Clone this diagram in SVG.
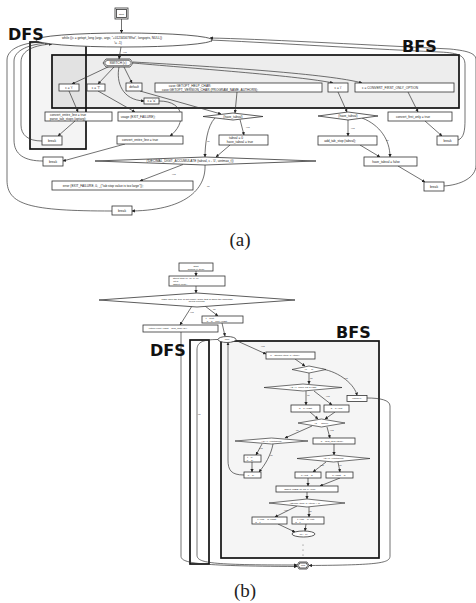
<svg xmlns="http://www.w3.org/2000/svg" width="476" height="603" viewBox="0 0 476 603">
<defs>
<marker id="ah" viewBox="0 0 6 6" refX="5.5" refY="3" markerWidth="3.2" markerHeight="3.2" markerUnits="userSpaceOnUse" orient="auto"><path d="M0,0 L6,3 L0,6 z" fill="#222"/></marker>
<style>
.n{fill:#fff;stroke:#333;stroke-width:0.8}
.d{fill:#fff;stroke:#333;stroke-width:0.7}
.t{font-family:"Liberation Sans",Arial,sans-serif;font-size:3.2px;fill:#222;text-anchor:middle}
.s{font-family:"Liberation Sans",Arial,sans-serif;font-size:2.5px;fill:#222;text-anchor:middle}
.l{font-family:"Liberation Sans",Arial,sans-serif;font-size:2.4px;fill:#333}
.e{fill:none;stroke:#333;stroke-width:0.7;marker-end:url(#ah)}
.p{fill:none;stroke:#333;stroke-width:0.7}
.big{font-family:"DejaVu Sans",sans-serif;font-weight:bold;font-size:16px;fill:#111}
.cap{font-family:"Liberation Serif","Times New Roman",serif;font-size:19px;fill:#222;text-anchor:middle}
.frame{stroke:#111;stroke-width:1.7}
</style>
</defs>
<rect width="476" height="603" fill="#fff"/>

<!-- ================= (a) ================= -->
<g id="a-frames">
<rect x="52" y="55" width="407" height="53" fill="#ededed" class="frame"/>
<rect x="30" y="42" width="56" height="107" fill="#000" fill-opacity="0.045" class="frame"/>
</g>

<g id="a-connectors">
<path class="e" d="M121.5,19 L121.5,33"/>
<path class="e" d="M121,47 L119,59"/>
<path class="e" d="M110,66 L72,84"/>
<path class="e" d="M114,67 L98,84"/>
<path class="e" d="M124,67 L132,83"/>
<path class="e" d="M119,67 C116,82 122,100 144,101"/>
<path class="e" d="M133,63 C200,69 300,76 333,83"/>
<path class="e" d="M133,62 C220,67 330,74 362,83"/>
<path class="e" d="M69,91 L78,112"/>
<path class="e" d="M98,91 L135,112"/>
<path class="e" d="M140,91 L221,114"/>
<path class="e" d="M237,92 L235,113"/>
<path class="e" d="M159,101 C186,101 186,124 170,136"/>
<path class="e" d="M75,121 L58,136"/>
<path class="e" d="M125,144 L63,161"/>
<path class="e" d="M240,119.5 L244,135"/>
<path class="e" d="M215,118 C207,126 205,145 205,157"/>
<path class="e" d="M230,145 L216,157"/>
<path class="e" d="M183,164.5 L140,181"/>
<path class="e" d="M205,165 C206,186 190,210 132,211"/>
<path class="e" d="M112,211 C30,211 7,205 7,180 L7,60 C7,48 25,42 44,42"/>
<path class="e" d="M42,141 C28,141 21,135 21,125 L21,62 C21,50 35,45 52,44"/>
<path class="e" d="M43,161 C25,161 14,155 14,140 L14,61 C14,50 30,44 48,43"/>
<path class="e" d="M338,92 L347,112"/>
<path class="e" d="M408,92 L418,112"/>
<path class="e" d="M425,121 L442,136"/>
<path class="e" d="M458,140 C464,138 465,130 465,120 L465,65 C465,56 460,53 440,52 C350,48 260,42 209,40"/>
<path class="e" d="M348,120 L348,136"/>
<path class="e" d="M362,118 C380,125 390,140 390,157"/>
<path class="e" d="M360,145 L380,157"/>
<path class="e" d="M398,166 L425,182"/>
<path class="e" d="M444,186 C460,185 476,178 476,165 L476,60 C476,54 470,51 450,49 C350,44 260,39 210,38"/>
<text class="l" x="123" y="53">yes</text>
<text class="l" x="246" y="128">yes</text>
<text class="l" x="207" y="142">no</text>
<text class="l" x="172" y="175">yes</text>
<text class="l" x="207" y="187">no</text>
<text class="l" x="351" y="129">yes</text>
<text class="l" x="386" y="141">no</text>
</g>

<g id="a-start"><rect class="n" x="115" y="8" width="13" height="11"/><rect class="n" x="116.5" y="9.5" width="10" height="8"/><text class="s" x="121.5" y="14.6">start</text></g>
<g id="a-while"><ellipse class="n" cx="124" cy="40" rx="88" ry="7"/><text class="t" x="112" y="39">while ((c = getopt_long (argc, argv, "+0123456789at", longopts, NULL))</text><text class="t" x="118" y="43.5">!= -1)</text></g>
<g id="a-switch"><polygon class="n" points="106,59 130,59 133,63 130,67 106,67 103,63"/><polygon class="n" points="107,60.2 129,60.2 131.5,63 129,65.8 107,65.8 104.5,63"/><text class="t" x="118" y="64.1">SWITCH (c)</text></g>
<g id="a-ct"><rect class="n" x="59" y="84" width="20" height="7"/><text class="t" x="69" y="88.6">c = 't'</text></g>
<g id="a-cT"><rect class="n" x="87" y="84" width="18" height="7"/><text class="t" x="96" y="88.6">c = 'T'</text></g>
<g id="a-default"><rect class="n" x="126" y="83" width="16" height="8"/><text class="t" x="134" y="88">default</text></g>
<g id="a-case"><rect class="n" x="155" y="83" width="167" height="9"/><text class="t" x="190" y="86.8">case GETOPT_HELP_CHAR:</text><text class="t" x="210" y="90.6">case GETOPT_VERSION_CHAR (PROGRAM_NAME, AUTHORS);</text></g>
<g id="a-ci"><rect class="n" x="328" y="83" width="20" height="9"/><text class="t" x="338" y="88.6">c = 'i'</text></g>
<g id="a-conv"><rect class="n" x="355" y="83" width="99" height="9"/><text class="t" x="390" y="88.6">c = CONVERT_FIRST_ONLY_OPTION</text></g>
<g id="a-ca"><rect class="n" x="144" y="98" width="15" height="6"/><text class="t" x="151.5" y="102.1">c = 'a'</text></g>
<g id="a-parse"><rect class="n" x="45" y="112" width="67" height="9"/><text class="t" x="68" y="115.6">convert_entire_line = true</text><text class="t" x="68" y="119.6">parse_tab_stops (optarg);</text></g>
<g id="a-usage"><rect class="n" x="118" y="112" width="64" height="9"/><text class="t" x="138" y="117.6">usage (EXIT_FAILURE);</text></g>
<g id="a-break1"><rect class="n" x="42" y="136" width="20" height="9"/><text class="t" x="52" y="141.6">break</text></g>
<g id="a-entire"><rect class="n" x="117" y="136" width="66" height="8"/><text class="t" x="140" y="141.1">convert_entire_line = true</text></g>
<g id="a-break2"><rect class="n" x="43" y="157" width="20" height="9"/><text class="t" x="53" y="162.6">break</text></g>
<g id="a-havetab1"><polygon class="n" points="203,116.5 233,113 263,116.5 233,120"/><text class="t" x="233" y="117.6">(have_tabval)</text></g>
<g id="a-tabval"><rect class="n" x="219" y="135" width="49" height="10"/><text class="t" x="236" y="139">tabval = 0</text><text class="t" x="240" y="143">have_tabval = true</text></g>
<g id="a-decimal"><polygon class="n" points="95,161 205,157 316,161 205,165"/><text class="t" x="190" y="162.1">(!DECIMAL_DIGIT_ACCUMULATE (tabval, c - '0', uintmax_t))</text></g>
<g id="a-error"><rect class="n" x="52" y="181" width="141" height="9"/><text class="t" x="103" y="186.6">error (EXIT_FAILURE, 0, _("tab stop value is too large"));</text></g>
<g id="a-break3"><rect class="n" x="112" y="206" width="20" height="9"/><text class="t" x="122" y="211.6">break</text></g>
<g id="a-havetab2"><polygon class="n" points="318,116 348,112 378,116 348,120"/><text class="t" x="348" y="117.1">(have_tabval)</text></g>
<g id="a-first"><rect class="n" x="388" y="112" width="64" height="9"/><text class="t" x="413" y="117.6">convert_first_only = true</text></g>
<g id="a-addtab"><rect class="n" x="318" y="136" width="59" height="9"/><text class="t" x="340" y="141.6">add_tab_stop (tabval);</text></g>
<g id="a-break4"><rect class="n" x="437" y="136" width="21" height="9"/><text class="t" x="447.5" y="141.6">break</text></g>
<g id="a-havefalse"><rect class="n" x="364" y="157" width="53" height="9"/><text class="t" x="386" y="162.6">have_tabval = false</text></g>
<g id="a-break5"><rect class="n" x="424" y="182" width="20" height="9"/><text class="t" x="434" y="187.6">break</text></g>
<text class="big" x="8" y="40">DFS</text>
<text class="big" x="402" y="52">BFS</text>
<text class="cap" x="240" y="246">(a)</text>

<!-- ================= (b) ================= -->
<g id="b-frames">
<rect x="221" y="341" width="158" height="217" fill="#f5f5f5" class="frame"/>
<rect x="190" y="340" width="19" height="224" fill="none" class="frame"/>
</g>

<g id="b-connectors">
<path class="e" d="M196,271 L196,276"/>
<path class="e" d="M196,286 L196,293"/>
<path class="e" d="M192,306 L180,325"/>
<path class="e" d="M205,306 L218,316"/>
<path class="e" d="M222,323 L225,336"/>
<path class="e" d="M235,340 L266,354"/>
<path class="e" d="M295,359 L305,366"/>
<path class="e" d="M309,373 L309,384"/>
<path class="e" d="M322,369 C340,372 355,385 357,395.5"/>
<path class="e" d="M306,391 L306,405"/>
<path class="e" d="M314,391 L332,405"/>
<path class="e" d="M310,412 L318,419"/>
<path class="e" d="M335,412 L325,419"/>
<path class="e" d="M312,426 L285,438"/>
<path class="e" d="M327,427 L330,438"/>
<path class="e" d="M262,444 L256,455"/>
<path class="e" d="M273,444 C271,455 265,465 259,472"/>
<path class="e" d="M252,462 L252,472"/>
<path class="e" d="M244,475 C231,475 228,470 228,460 L228,342.5"/>
<path class="e" d="M334,444 L334,455"/>
<path class="e" d="M326,462 L313,472"/>
<path class="e" d="M338,462 L340,472"/>
<path class="e" d="M308,478 L308,486"/>
<path class="e" d="M340,478 L320,486"/>
<path class="e" d="M307,492 L307,499"/>
<path class="e" d="M297,506 L275,517"/>
<path class="e" d="M309,507 L309,517"/>
<path class="e" d="M278,524 L295,532"/>
<path class="e" d="M306,524 L305,531"/>
<path class="e" d="M367,398 C380,398 390,400 390,406 L390,556 C390,563 380,565 309,565.5"/>
<path class="e" d="M218,339.5 C201,339.5 197,343 197,350 L197,555 C197,563 210,565 297,565"/>
<path class="e" d="M181,332 L181,556 C181,563 195,566 297,566.5"/>
<text class="l" x="190" y="313">yes</text>
<text class="l" x="213" y="310">no</text>
<text class="l" x="261" y="347">yes</text>
<text class="l" x="310" y="379">no</text>
<text class="l" x="344" y="379">yes</text>
<text class="l" x="307" y="396">no</text>
<text class="l" x="326" y="397">yes</text>
<text class="l" x="296" y="431">no</text>
<text class="l" x="330" y="431">yes</text>
<text class="l" x="259" y="449">yes</text>
<text class="l" x="270" y="456">no</text>
<text class="l" x="320" y="466">yes</text>
<text class="l" x="339" y="466">no</text>
<text class="l" x="284" y="511">yes</text>
<text class="l" x="309" y="512">no</text>
<text class="l" x="198" y="415">no</text>
</g>

<g id="b-start"><rect class="n" x="179" y="263" width="34" height="8"/><text class="s" x="196" y="266.5">start</text><text class="s" x="196" y="269.8">search (t, item)</text></g>
<g id="b-struct"><rect class="n" x="169" y="276" width="56" height="10"/><text class="s" x="186" y="279">struct item *p, *q, *t, *u;</text><text class="s" x="176" y="281.8">int d;</text><text class="s" x="180" y="284.6">assert (root);</text></g>
<g id="b-make"><polygon class="n" points="99,300 197,293 295,300 197,307"/><text class="s" x="197" y="299.6">Make sure the tree is not empty, since that is when the algorithm</text><text class="s" x="197" y="302.4">below expects.</text></g>
<g id="b-return"><rect class="n" x="143" y="325" width="75" height="7"/><text class="s" x="168" y="329.3">return (root-&gt;right = new_item (d));</text></g>
<g id="b-tq"><rect class="n" x="202" y="316" width="41" height="7"/><text class="s" x="210" y="319">t = root;</text><text class="s" x="217" y="321.8">p = q = root-&gt;right;</text></g>
<g id="b-loop"><ellipse class="n" cx="227" cy="339.5" rx="9" ry="3"/><text class="s" x="227" y="340.4">loop</text></g>
<g id="b-dequeue"><rect class="n" x="266" y="352" width="49" height="7"/><text class="s" x="285" y="356.3">u = strcmp (item, p-&gt;item);</text></g>
<g id="b-u0"><polygon class="d" points="292,369.5 309,366 326,369.5 309,373"/><text class="s" x="309" y="370.4">(u == 0)</text></g>
<g id="b-move"><polygon class="d" points="264,387.5 303,384 342,387.5 303,391"/><text class="s" x="303" y="388.4">A2-A4. Move left &amp; right</text></g>
<g id="b-retp"><rect class="n" x="347" y="395.5" width="20" height="6"/><text class="s" x="357" y="399.3">return p;</text></g>
<g id="b-qright"><rect class="n" x="291" y="405" width="29" height="7"/><text class="s" x="305.5" y="409.3">q = p-&gt;right</text></g>
<g id="b-qleft"><rect class="n" x="324" y="405" width="25" height="7"/><text class="s" x="336.5" y="409.3">q = p-&gt;left</text></g>
<g id="b-qnull"><polygon class="d" points="298,423 321.5,419 345,423 321.5,427"/><text class="s" x="321.5" y="423.9">(q == NULL)</text></g>
<g id="b-cont1"><polygon class="d" points="235,441 271.5,438 308,441 271.5,444"/><text class="s" x="271.5" y="441.9">A3/A4. (continued)</text></g>
<g id="b-newitem"><rect class="n" x="313" y="438" width="42" height="6"/><text class="s" x="332" y="441.8">q = new_item (item);</text></g>
<g id="b-tp"><rect class="n" x="244" y="455" width="17" height="7"/><text class="s" x="250" y="458">t = p;</text><text class="s" x="250" y="460.8">p = q;</text></g>
<g id="b-pq"><rect class="n" x="244" y="472" width="17" height="6"/><text class="s" x="251" y="475.8">p = q;</text></g>
<g id="b-cont2"><polygon class="d" points="297,458.5 333.5,455 370,458.5 333.5,462"/><text class="s" x="333.5" y="459.4">A5/A6. (continued)</text></g>
<g id="b-pleft"><rect class="n" x="295" y="472" width="26" height="6"/><text class="s" x="307" y="475.8">p-&gt;left = q;</text></g>
<g id="b-pright"><rect class="n" x="326" y="472" width="27" height="6"/><text class="s" x="339" y="475.8">p-&gt;right = q;</text></g>
<g id="b-assert"><rect class="n" x="276" y="486" width="62" height="6"/><text class="s" x="300" y="489.8">assert (!RED (q) &amp;&amp; u-&gt;red);</text></g>
<g id="b-cmp"><polygon class="d" points="269,503 307,499 345,503 307,507"/><text class="s" x="305" y="503.9">(strcmp (item, p-&gt;item) &lt; 0)</text></g>
<g id="b-sl"><rect class="n" x="252" y="517" width="35" height="7"/><text class="s" x="267" y="520">t-&gt;link = q-&gt;right;</text><text class="s" x="258" y="522.8">q = t;</text></g>
<g id="b-sr"><rect class="n" x="292" y="517" width="32" height="7"/><text class="s" x="306" y="520">t-&gt;link = q-&gt;left;</text><text class="s" x="298" y="522.8">q = t;</text></g>
<g id="b-qp"><ellipse class="n" cx="303.5" cy="534" rx="11.5" ry="3"/><text class="s" x="303.5" y="534.9">(q != p)</text></g>
<g id="b-dots" fill="#555"><circle cx="303" cy="545" r="0.5"/><circle cx="303" cy="550" r="0.5"/><circle cx="303" cy="555" r="0.5"/></g>
<g id="b-end"><polygon class="n" points="297,565.5 299,562 307,562 309,565.5 307,569 299,569"/><polygon class="n" points="298.3,565.5 299.8,563 306.2,563 307.7,565.5 306.2,568 299.8,568"/><text class="s" x="303" y="566.4">end</text></g>
<text class="big" x="150" y="356">DFS</text>
<text class="big" x="336" y="338">BFS</text>
<text class="cap" x="245" y="597">(b)</text>
</svg>
